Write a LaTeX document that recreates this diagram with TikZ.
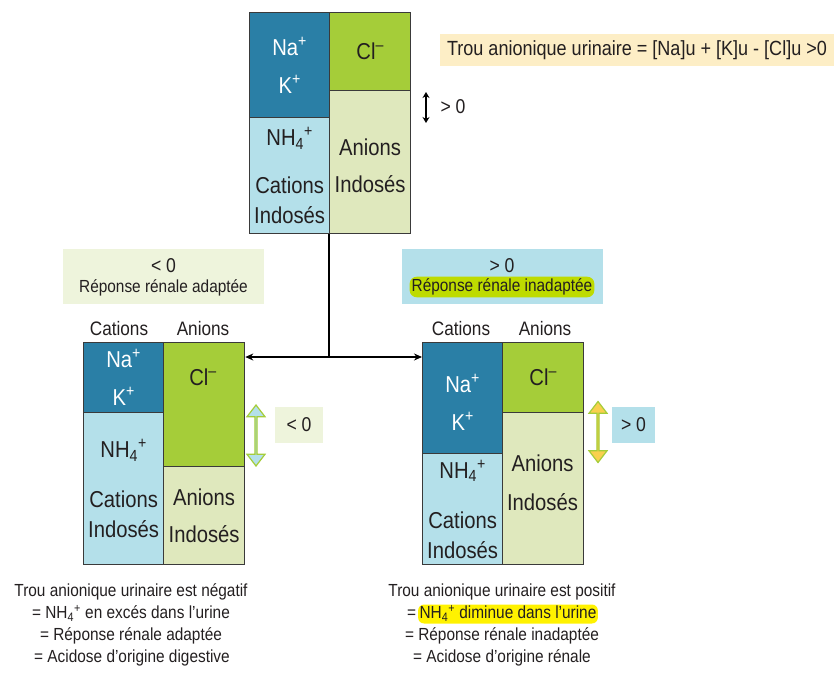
\documentclass[tikz,border=0pt]{standalone}
\usepackage{fontspec}
\setmainfont[FakeStretch=0.88]{Liberation Sans}
\usetikzlibrary{positioning}
\usetikzlibrary{shapes.arrows, arrows.meta}
\definecolor{nablue}{HTML}{2A7FA6}
\definecolor{nhblue}{HTML}{B4E0EA}
\definecolor{clgreen}{HTML}{A5CD39}
\definecolor{aigreen}{HTML}{DFE8BD}
\definecolor{cellline}{HTML}{3A3A3A}
\definecolor{formpeach}{HTML}{FDEEC6}
\definecolor{negbox}{HTML}{EEF4DC}
\definecolor{hlgreen}{HTML}{BEDB00}
\definecolor{hlyellow}{HTML}{FFF200}
\definecolor{gapyellow}{HTML}{F9D04E}
\definecolor{inktext}{HTML}{231F20}
\tikzstyle{cell} = [draw=cellline, line width=1.3pt, anchor=north west, inner sep=0pt, align=center, text=inktext, font=\fontsize{23}{30}\selectfont]
\tikzstyle{celltxt} = [text=inktext, align=center, font=\fontsize{23}{30}\selectfont]
\tikzstyle{colhead} = [text=inktext, font=\fontsize{19.5}{22}\selectfont]
\tikzstyle{concl} = [text=inktext, inner sep=1.5pt, text height=12.5pt, text depth=3.5pt, font=\fontsize{17.5}{22}\selectfont]
\tikzstyle{verdict} = [minimum width=201pt, minimum height=55pt, inner sep=0pt]
\tikzstyle{gaparrow} = [double arrow, draw=clgreen, line width=1.2pt, minimum height=61pt, minimum width=18pt, double arrow head extend=4.5pt, double arrow tip angle=75, rotate=90, inner sep=0pt]
\tikzstyle{arrow} = [line width=1.1pt, ->, >={Stealth[length=8pt,width=7pt]}]

\begin{document}
\begin{tikzpicture}[x=1pt, y=-1pt]
\useasboundingbox (0,0) rectangle (834,672);
% top block
\node[cell, fill=nablue, text=white, minimum width=80pt, minimum height=104.5pt] (tnak) at (249,12) {Na\textsuperscript{+}\\[8pt]K\textsuperscript{+}};
\node[cell, fill=nhblue, minimum width=80pt, minimum height=116.5pt] (tnh) at (249,116.5) {NH\textsubscript{4}\textsuperscript{+}\\[18pt]Cations\\Indosés};
\node[cell, fill=clgreen, minimum width=81pt, minimum height=78pt] (tcl) at (329,12) {Cl\textsuperscript{–}};
\node[cell, fill=aigreen, minimum width=81pt, minimum height=143pt] (tanid) at (329,90) {\\[-6pt]Anions\\[7pt]Indosés};
\node[fill=formpeach, minimum width=394pt, minimum height=32pt, inner sep=0pt, text=inktext, font=\fontsize{20.5}{24}\selectfont] (formula) at (637,50) {Trou anionique urinaire = [Na]u + [K]u - [Cl]u >0};
\coordinate (tgapup) at (426,92);
\coordinate (tgapdn) at (426,123);
\draw[line width=1.2pt, {Stealth[length=6pt,width=7pt]}-{Stealth[length=6pt,width=7pt]}] (tgapup) -- (tgapdn);
\node[text=inktext, font=\fontsize{20}{24}\selectfont] (tgaplbl) at (453,107) {> 0};

% verdicts
\node[verdict, fill=negbox] (lverdict) at (163.5,276.5) {};
\node[text=inktext, font=\fontsize{20}{22}\selectfont] (lsign) at (163.5,266) {< 0};
\node[text=inktext, font=\fontsize{17.5}{22}\selectfont] (lresp) at (163.5,288) {Réponse rénale adaptée};
\node[verdict, fill=nhblue] (rverdict) at (502.5,276.5) {};
\node[text=inktext, font=\fontsize{20}{22}\selectfont] (rsign) at (502,266) {> 0};
\node[fill=hlgreen, rounded corners=7pt, inner sep=2pt, text=inktext, font=\fontsize{17.5}{22}\selectfont] (rresp) at (502,287) {Réponse rénale inadaptée};

% left block
\node[colhead] (lcathead) at (119,329) {Cations};
\node[colhead] (lanhead) at (203,329) {Anions};
\node[cell, fill=nablue, text=white, minimum width=80pt, minimum height=70pt] (lnak) at (83,342) {Na\textsuperscript{+}\\[8pt]K\textsuperscript{+}};
\node[cell, fill=nhblue, minimum width=80pt, minimum height=152pt] (lnh) at (83,412) {NH\textsubscript{4}\textsuperscript{+}\\[20pt]Cations\\Indosés};
\node[cell, fill=clgreen, minimum width=81pt, minimum height=124pt] (lcl) at (163,342) {};
\node[celltxt] (lcltxt) at (203,377) {Cl\textsuperscript{–}};
\node[cell, fill=aigreen, minimum width=81pt, minimum height=98pt] (lanid) at (163,466) {Anions\\[7pt]Indosés};
\node[gaparrow, fill=nhblue] (lgap) at (256,435.5) {};
\node[fill=negbox, minimum width=48pt, minimum height=36pt, inner sep=0pt, text=inktext, font=\fontsize{20}{22}\selectfont] (lgaplbl) at (299,425) {< 0};

% right block
\node[colhead] (rcathead) at (461,329) {Cations};
\node[colhead] (ranhead) at (545,329) {Anions};
\node[cell, fill=nablue, text=white, minimum width=80pt, minimum height=111pt] (rnak) at (422,342) {\\[-4pt]Na\textsuperscript{+}\\[8pt]K\textsuperscript{+}};
\node[cell, fill=nhblue, minimum width=80pt, minimum height=111pt] (rnh) at (422,453) {NH\textsubscript{4}\textsuperscript{+}\\[20pt]Cations\\Indosés};
\node[cell, fill=clgreen, minimum width=81pt, minimum height=70pt] (rcl) at (502,342) {Cl\textsuperscript{–}};
\node[cell, fill=aigreen, minimum width=81pt, minimum height=152pt] (ranid) at (502,412) {};
\node[celltxt] (ranidtxt) at (542.5,483) {Anions\\[9pt]Indosés};
\node[gaparrow, fill=gapyellow] (rgap) at (598,432) {};
\node[fill=nhblue, minimum width=43pt, minimum height=36pt, inner sep=0pt, text=inktext, font=\fontsize{20}{22}\selectfont] (rgaplbl) at (633.5,425) {> 0};

% connectors
\coordinate (split) at (329,357);
\draw[line width=1.1pt] (tanid.south west) -- (split);
\draw[arrow] (split) -- (split -| lcl.east);
\draw[arrow] (split) -- (split -| rnak.west);

% conclusions
\node[concl] (lc1) at (131,592) {Trou anionique urinaire est négatif};
\node[concl] (lc2) at (131,614) {= NH\textsubscript{4}\textsuperscript{+} en excés dans l’urine};
\node[concl] (lc3) at (131,636) {= Réponse rénale adaptée};
\node[concl] (lc4) at (132,658) {= Acidose d’origine digestive};
\node[concl] (rc1) at (502,592) {Trou anionique urinaire est positif};
\node[concl, fill=hlyellow, rounded corners=6pt] (rc2) at (508,614) {NH\textsubscript{4}\textsuperscript{+} diminue dans l’urine};
\node[concl, left=0pt of rc2] (rc2eq) {=};
\node[concl] (rc3) at (502,636) {= Réponse rénale inadaptée};
\node[concl] (rc4) at (502,658) {= Acidose d’origine rénale};
\end{tikzpicture}
\end{document}
